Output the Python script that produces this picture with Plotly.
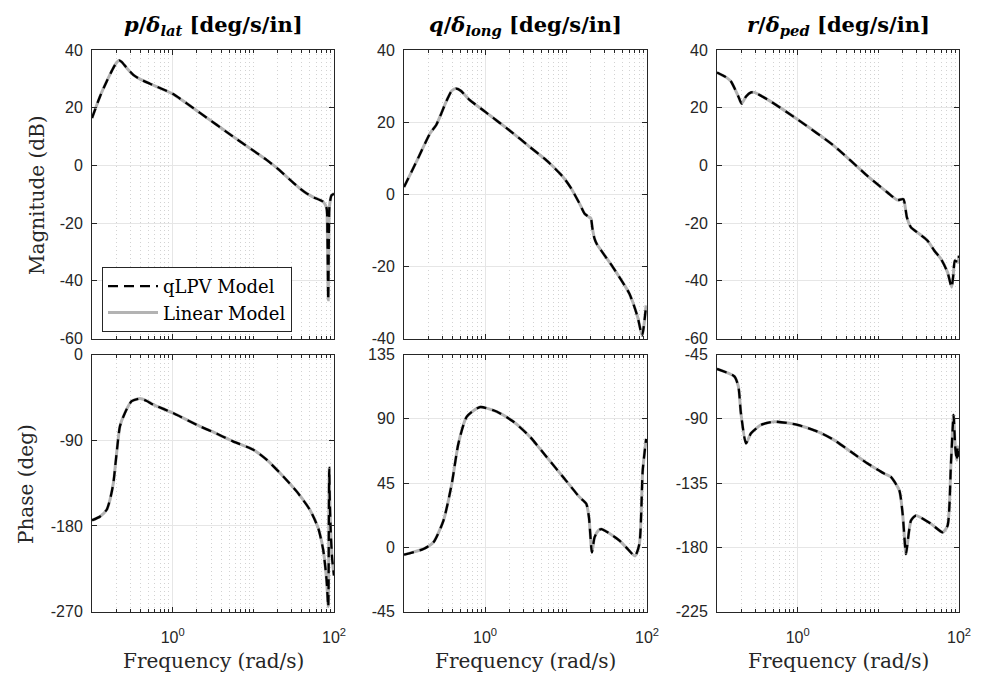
import plotly.graph_objects as go

# frequency response (rad/s, dB, deg)
p_mag_w = [0.1, 0.1256, 0.152, 0.184, 0.202, 0.216, 0.233, 0.269, 0.325, 0.394, 0.524, 1.0, 2.18,
           5.6, 14.6, 21.4, 28.0, 37.8, 45.7, 55.2, 73.4, 80.9, 82.8, 84.8, 86.0, 87.5, 90.0, 93.0, 100.0]
p_mag_db = [16.4, 23.9, 29.1, 33.8, 35.7, 36.4, 35.9, 33.8, 31.4, 29.9, 28.3, 24.8, 18.2,
            10.0, 1.9, -1.8, -4.8, -8.0, -9.7, -11.0, -12.6, -14.8, -24.0, -46.6, -30.0, -15.0, -12.0,
            -10.4, -9.8]

p_ph_w = [0.1, 0.126, 0.152, 0.167, 0.184, 0.202, 0.222, 0.256, 0.31, 0.393, 0.47, 0.575, 1.0, 2.18,
          3.5, 5.6, 10.0, 14.6, 23.5, 34.4, 50.2, 63.7, 73.4, 80.9, 84.8, 85.5, 86.5, 87.3, 88.5,
          91.0, 95.0, 100.0]
p_ph_deg = [-174, -170, -163, -152.5, -135, -103.4, -75.4, -61.3, -49, -46.3, -48.5, -52.6, -61.3, -75.4,
            -83, -91.2, -100, -110.4, -128, -143.7, -163, -182.2, -205, -236.6, -264.6, -250, -160, -119,
            -150, -185, -215, -232]

q_mag_w = [0.1, 0.145, 0.21, 0.25, 0.338, 0.389, 0.44, 0.502, 0.65, 1.0, 2.23, 3.58, 5.74, 9.2, 11.6,
           14.7, 17.0, 19.2, 20.3, 21.2, 22.5, 24.0, 37.9, 60.7, 76.8, 87.0, 97.5]
q_mag_db = [2.0, 9.4, 16.9, 19.2, 26.1, 28.7, 29.3, 28.7, 26.1, 22.9, 16.9, 13.1, 9.4, 4.8, 1.6,
            -2.6, -5.4, -6.3, -6.7, -9.5, -12.3, -13.8, -20.2, -27.6, -34.1, -39.2, -30.8]

q_ph_w = [0.1, 0.174, 0.231, 0.307, 0.389, 0.47, 0.596, 0.868, 1.39, 2.23, 3.58, 5.74, 9.2, 14.7,
          17.8, 19.2, 20.9, 22.5, 25.0, 27.3, 37.9, 45.8, 55.3, 71.0, 80.6, 88.6, 97.6]
q_ph_deg = [-5.1, -1.1, 3.6, 18.8, 44.6, 72.8, 91.5, 98.2, 95.1, 88.1, 77.5, 63.4, 49.3, 35.2,
            30.6, 21.1, -3.5, 7.0, 11.8, 12.8, 8.2, 4.7, 0.0, -6.0, 2.4, 54.0, 76.0]

r_mag_w = [0.1, 0.129, 0.149, 0.184, 0.202, 0.229, 0.264, 0.29, 0.425, 1.0, 2.84, 7.37, 13.0, 17.3,
           20.4, 22.6, 25.4, 30.7, 40.8, 49.3, 59.7, 72.0, 81.0, 85.0, 89.0, 97.0, 100.0]
r_mag_db = [32.2, 30.6, 29.1, 23.9, 21.4, 23.9, 25.3, 25.3, 22.8, 15.9, 6.7, -3.7, -9.4, -12.0,
            -11.7, -18.0, -21.5, -23.3, -26.1, -29.5, -32.4, -37.0, -42.2, -38.0, -33.0, -33.6, -31.3]

r_ph_w = [0.1, 0.164, 0.184, 0.198, 0.229, 0.264, 0.351, 0.513, 1.0, 1.77, 2.84, 4.58, 7.37, 11.8,
          14.3, 18.2, 20.0, 21.0, 22.0, 25.4, 29.2, 44.9, 62.7, 72.0, 79.5, 85.7, 89.8, 94.0, 96.5, 100.0]
r_ph_deg = [-55.1, -60.3, -67.3, -86.1, -107.2, -100.1, -94.3, -92, -94.3, -99, -104.9, -113.1, -121.3, -128.3,
            -130.7, -140.1, -156.5, -172, -184.7, -161.2, -157.7, -163.5, -169.4, -165, -121.3, -87.3, -109.6,
            -119, -109.6, -116.6]

titles = ['<b><i>p</i>/<i>δ</i><sub><i>lat</i></sub> [deg/s/in]</b>',
          '<b><i>q</i>/<i>δ</i><sub><i>long</i></sub> [deg/s/in]</b>',
          '<b><i>r</i>/<i>δ</i><sub><i>ped</i></sub> [deg/s/in]</b>']

mag_ranges = [(-60, 40), (-40, 40), (-60, 40)]
ph_ranges = [(-270, 0), (-45, 135), (-225, -45)]
mag_step = 20
ph_step = [90, 45, 45]

panels = [(p_mag_w, p_mag_db), (q_mag_w, q_mag_db), (r_mag_w, r_mag_db),
          (p_ph_w, p_ph_deg), (q_ph_w, q_ph_deg), (r_ph_w, r_ph_deg)]

# the page body adds an 8px margin, so the figure is laid out 8px up/left
OFF = 8
W, H = 988 - OFF, 678 - OFF
col_px = [(92, 334), (404, 647), (717, 959)]
row_px = [(50, 338.5), (354.5, 611.7)]


def px(v):
    return (v - OFF) / W


def py(v):
    return 1 - (v - OFF) / H


AX = '#262626'
TICKFONT = dict(family='Liberation Sans, Arial', size=16, color=AX)
SERIF = 'DejaVu Serif'

minor_x = [m * 10 ** e for e in (-1, 0, 1) for m in range(2, 10)] + [10]

fig = go.Figure()

for i, (w, v) in enumerate(panels):
    n = i + 1
    xa = 'x' if n == 1 else 'x%d' % n
    ya = 'y' if n == 1 else 'y%d' % n
    fig.add_trace(go.Scatter(x=w, y=v, mode='lines', xaxis=xa, yaxis=ya,
                             line=dict(color='#b3b3b3', width=3, shape='spline', smoothing=0.6),
                             name='Linear Model', legendrank=2, showlegend=(n == 1)))
    fig.add_trace(go.Scatter(x=w, y=v, mode='lines', xaxis=xa, yaxis=ya,
                             line=dict(color='black', width=2.3, dash='10px,6px',
                                       shape='spline', smoothing=0.6),
                             name='qLPV Model', legendrank=1, showlegend=(n == 1)))

layout = {}
for i in range(6):
    n = i + 1
    r, c = divmod(i, 3)
    x0, x1 = col_px[c]
    y0, y1 = row_px[r]
    if r == 0:
        lo, hi = mag_ranges[c]
        step = mag_step
    else:
        lo, hi = ph_ranges[c]
        step = ph_step[c]
    yt = list(range(lo, hi + 1, step))
    key = '' if n == 1 else str(n)
    layout['xaxis' + key] = dict(
        domain=[px(x0), px(x1)], anchor='y' + key, type='log', range=[-1, 2],
        tickvals=[1, 100], ticktext=['10<sup>0</sup>', '10<sup>2</sup>'],
        showticklabels=(r == 1), ticks='inside', ticklen=5, tickcolor=AX,
        showline=True, linecolor=AX, linewidth=1, mirror='ticks',
        showgrid=True, gridcolor='#e6e6e6', gridwidth=1, zeroline=False,
        tickfont=TICKFONT, ticklabelstandoff=11, automargin=False,
        minor=dict(tickvals=minor_x, ticks='inside', ticklen=3, tickcolor=AX,
                   showgrid=True, gridcolor='#d2d2d2', griddash='1px,3px', gridwidth=1))
    layout['yaxis' + key] = dict(
        domain=[py(y1), py(y0)], anchor='x' + key, range=[lo, hi],
        tickvals=yt, ticktext=[str(t) for t in yt],
        ticks='inside', ticklen=5, tickcolor=AX,
        showline=True, linecolor=AX, linewidth=1, mirror='ticks',
        showgrid=True, gridcolor='#e6e6e6', gridwidth=1, zeroline=False,
        tickfont=TICKFONT, ticklabelstandoff=5, automargin=False)

ann = []
for c in range(3):
    xc = px((col_px[c][0] + col_px[c][1]) / 2)
    ann.append(dict(text=titles[c], x=xc, y=py(26), xref='paper', yref='paper',
                    showarrow=False, xanchor='center', yanchor='middle',
                    font=dict(family=SERIF, size=21, color='black')))
    ann.append(dict(text='Frequency (rad/s)', x=xc, y=py(661), xref='paper', yref='paper',
                    showarrow=False, xanchor='center', yanchor='middle',
                    font=dict(family=SERIF, size=20, color=AX)))
ann.append(dict(text='Magnitude (dB)', x=px(37), y=py(195), xref='paper', yref='paper',
                showarrow=False, textangle=-90, xanchor='center', yanchor='middle',
                font=dict(family=SERIF, size=20, color=AX)))
ann.append(dict(text='Phase (deg)', x=px(26), y=py(484), xref='paper', yref='paper',
                showarrow=False, textangle=-90, xanchor='center', yanchor='middle',
                font=dict(family=SERIF, size=20, color=AX)))

fig.update_layout(
    **layout,
    annotations=ann,
    width=W, height=H,
    margin=dict(l=0, r=0, t=0, b=0),
    template='none',
    plot_bgcolor='white', paper_bgcolor='white',
    legend=dict(x=px(102), y=py(267), xanchor='left', yanchor='top',
                bgcolor='white', bordercolor=AX, borderwidth=1,
                font=dict(family=SERIF, size=18, color='black'),
                itemwidth=50, tracegroupgap=0),
)

fig.write_html('out.html')
